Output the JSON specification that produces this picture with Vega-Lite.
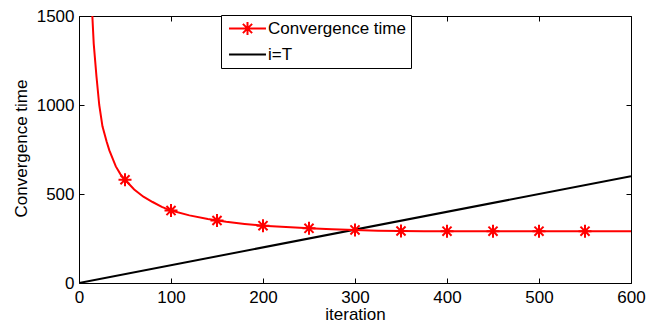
{
  "$schema": "https://vega.github.io/schema/vega-lite/v6.json",
  "width": 552,
  "height": 267,
  "autosize": {"type": "none"},
  "padding": {"left": 79, "top": 16, "right": 34, "bottom": 39},
  "background": "white",
  "datasets": {
    "curve": [
      {"i": 14.5, "T": 1500}, {"i": 16, "T": 1345}, {"i": 19, "T": 1160}, {"i": 22, "T": 1000},
      {"i": 25.5, "T": 880}, {"i": 30, "T": 795}, {"i": 33, "T": 745}, {"i": 40, "T": 655},
      {"i": 45, "T": 612}, {"i": 50, "T": 580}, {"i": 60, "T": 525}, {"i": 70, "T": 485},
      {"i": 80, "T": 455}, {"i": 90, "T": 428}, {"i": 100, "T": 407}, {"i": 120, "T": 380},
      {"i": 140, "T": 360}, {"i": 160, "T": 344}, {"i": 180, "T": 332}, {"i": 200, "T": 322},
      {"i": 225, "T": 314}, {"i": 250, "T": 307}, {"i": 275, "T": 302}, {"i": 300, "T": 298},
      {"i": 325, "T": 294}, {"i": 350, "T": 292}, {"i": 375, "T": 291}, {"i": 400, "T": 291},
      {"i": 600, "T": 291}
    ],
    "markers": [
      {"i": 50, "T": 580}, {"i": 100, "T": 407}, {"i": 150, "T": 351}, {"i": 200, "T": 322},
      {"i": 250, "T": 307}, {"i": 300, "T": 298}, {"i": 350, "T": 292}, {"i": 400, "T": 291},
      {"i": 450, "T": 291}, {"i": 500, "T": 291}, {"i": 550, "T": 291}
    ],
    "ident": [{"i": 0, "T": 0}, {"i": 600, "T": 600}]
  },
  "config": {
    "font": "Liberation Sans",
    "view": {"stroke": null},
    "axis": {
      "grid": false,
      "domainColor": "black",
      "domainWidth": 1,
      "tickColor": "black",
      "tickSize": -5,
      "tickWidth": 1,
      "labelFont": "Liberation Sans",
      "labelFontSize": 17,
      "labelColor": "black",
      "titleFont": "Liberation Sans",
      "titleFontSize": 17,
      "titleFontWeight": "normal",
      "titleColor": "black"
    },
    "legend": {
      "labelFont": "Liberation Sans",
      "labelFontSize": 17,
      "labelColor": "black"
    }
  },
  "layer": [
    {
      "data": {"name": "ident"},
      "mark": {"type": "line", "strokeWidth": 2, "clip": true},
      "encoding": {
        "x": {
          "field": "i", "type": "quantitative",
          "scale": {"domain": [0, 600], "nice": false, "zero": false},
          "axis": {"orient": "bottom", "title": "iteration", "values": [0, 100, 200, 300, 400, 500, 600],
                   "format": "d", "labelPadding": 11, "labelFlush": false, "titleY": 36, "titleBaseline": "alphabetic"}
        },
        "y": {
          "field": "T", "type": "quantitative",
          "scale": {"domain": [0, 1500], "nice": false, "zero": false},
          "axis": {"orient": "left", "title": "Convergence time", "values": [0, 500, 1000, 1500],
                   "format": "d", "labelPadding": 10, "labelFlush": false, "titleX": -58, "titleY": 132,
                   "titleAngle": 270, "titleAlign": "center", "titleBaseline": "middle",
                   "titleFontSize": 17, "titleLimit": 400}
        },
        "color": {
          "datum": "i=T",
          "type": "nominal",
          "scale": {"domain": ["Convergence time", "i=T"], "range": ["#ff0000", "#000000"]},
          "legend": {
            "title": null,
            "orient": "none",
            "legendX": 142,
            "legendY": -1,
            "padding": 5,
            "rowPadding": 5,
            "strokeColor": "black",
            "fillColor": "white",
            "symbolSize": 196,
            "symbolStrokeWidth": 2,
            "symbolOffset": 13,
            "labelOffset": 12,
            "encode": {
              "symbols": {
                "update": {
                  "shape": {"signal": "datum.value === 'Convergence time' ? 'M-2.64,0L2.64,0M0,-0.93L0,0.93M-0.66,-0.66L0.66,0.66M-0.66,0.66L0.66,-0.66' : 'M-2.64,0L2.64,0'"},
                  "fill": {"value": "transparent"}
                }
              }
            }
          }
        }
      }
    },
    {
      "data": {"name": "curve"},
      "mark": {"type": "line", "strokeWidth": 2, "clip": true},
      "encoding": {
        "x": {"field": "i", "type": "quantitative", "axis": null},
        "y": {"field": "T", "type": "quantitative", "axis": null},
        "color": {"datum": "Convergence time", "type": "nominal"}
      }
    },
    {
      "data": {"name": "markers"},
      "mark": {"type": "point", "filled": false, "shape": "M-1,0L1,0M0,-1L0,1M-0.7,-0.7L0.7,0.7M-0.7,0.7L0.7,-0.7", "size": 169, "strokeWidth": 2, "stroke": "#ff0000", "opacity": 1},
      "encoding": {
        "x": {"field": "i", "type": "quantitative", "axis": null},
        "y": {"field": "T", "type": "quantitative", "axis": null}
      }
    },
    {
      "data": {"name": "ident"},
      "mark": {"type": "line", "opacity": 0},
      "encoding": {
        "x": {"field": "i", "type": "quantitative",
              "axis": {"orient": "top", "labels": false, "title": null, "values": [0, 100, 200, 300, 400, 500, 600]}},
        "y": {"field": "T", "type": "quantitative",
              "axis": {"orient": "right", "labels": false, "title": null, "values": [0, 500, 1000, 1500]}}
      }
    }
  ],
  "resolve": {"axis": {"x": "independent", "y": "independent"}}
}
